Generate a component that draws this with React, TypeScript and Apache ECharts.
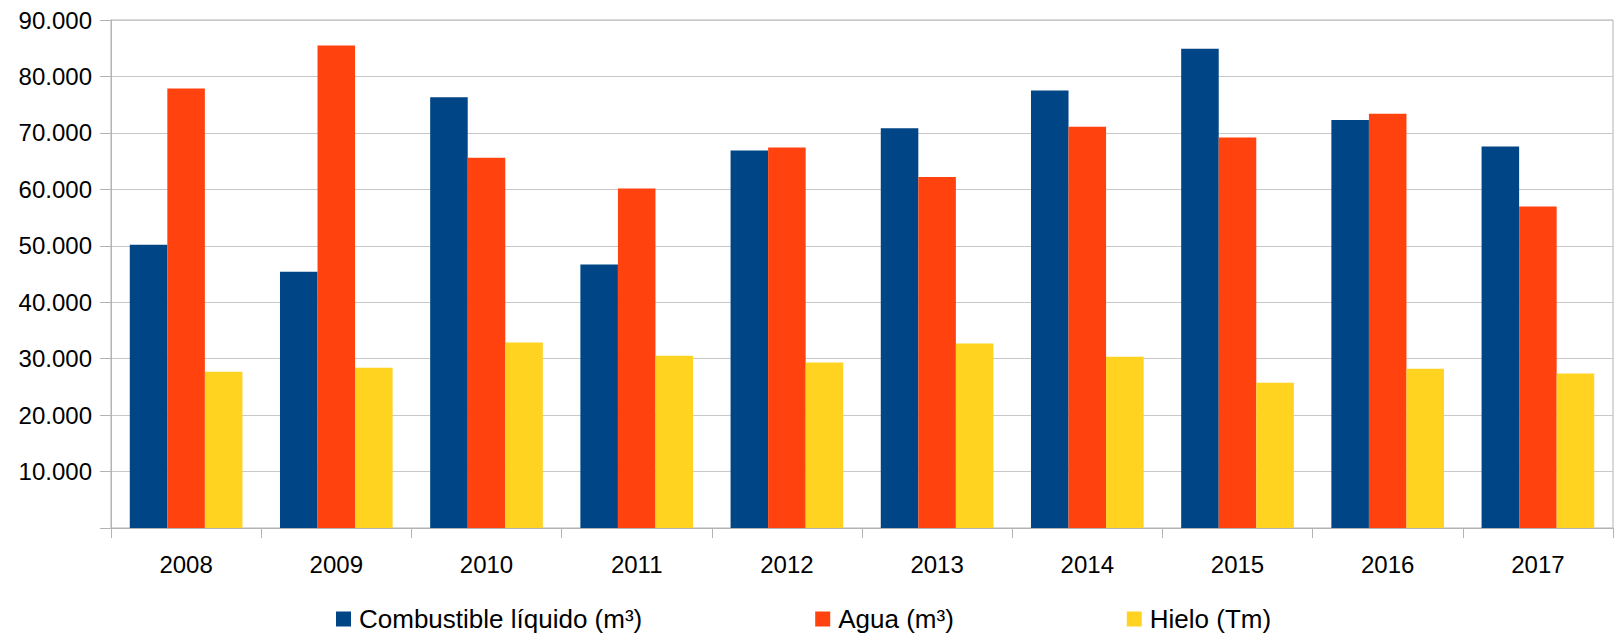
import React, { useEffect, useRef } from "react";
import * as echarts from "echarts";

const categories = ["2008", "2009", "2010", "2011", "2012", "2013", "2014", "2015", "2016", "2017"];
const seriesNames = ["Combustible líquido (m³)", "Agua (m³)", "Hielo (Tm)"];
const combustible = [50200, 45400, 76300, 46700, 66900, 70800, 77500, 84900, 72300, 67600];
const agua = [77850, 85500, 65600, 60150, 67400, 62200, 71100, 69200, 73400, 56950];
const hielo = [27700, 28400, 32850, 30500, 29300, 32700, 30350, 25750, 28200, 27350];
const colors = ["#004586", "#ff420e", "#ffd320"];

const FONT = "Liberation Sans, Arial, sans-serif";

function fmt(v: number): string {
  if (v === 0) return "";
  return String(v).replace(/\B(?=(\d{3})+(?!\d))/g, ".");
}

export default function App() {
  const ref = useRef<HTMLDivElement>(null);
  useEffect(() => {
    if (!ref.current) return;
    const chart = echarts.init(ref.current, null, { renderer: "svg" });
    const data = [combustible, agua, hielo];
    chart.setOption({
      animation: false,
      backgroundColor: "#ffffff",
      grid: {
        left: 111,
        right: 4,
        top: 20,
        height: 508,
        show: true,
        borderColor: "#b3b3b3",
        borderWidth: 1,
      },
      legend: {
        left: 336,
        top: 606,
        padding: 0,
        itemWidth: 15,
        itemHeight: 15,
        itemGap: 173,
        icon: "rect",
        textStyle: { fontFamily: FONT, fontSize: 26, color: "#000000", padding: [0, 0, 0, 3] },
        data: seriesNames,
      },
      xAxis: {
        type: "category",
        data: categories,
        axisLine: { show: true, lineStyle: { color: "#b3b3b3" } },
        axisTick: { show: true, length: 10, lineStyle: { color: "#b3b3b3" } },
        axisLabel: { fontFamily: FONT, fontSize: 24, color: "#000000", margin: 24 },
        splitLine: { show: false },
      },
      yAxis: {
        type: "value",
        min: 0,
        max: 90000,
        interval: 10000,
        axisLine: { show: true, lineStyle: { color: "#b3b3b3" } },
        axisTick: { show: true, length: 11, lineStyle: { color: "#b3b3b3" } },
        axisLabel: { fontFamily: FONT, fontSize: 24, color: "#000000", margin: 19, formatter: fmt },
        splitLine: { show: true, lineStyle: { color: "#c8c8c8", width: 1 } },
      },
      series: seriesNames.map((name, i) => ({
        name,
        type: "bar",
        data: data[i],
        barGap: "0%",
        barCategoryGap: "25%",
        itemStyle: { color: colors[i] },
      })),
    });
    return () => chart.dispose();
  }, []);
  return <div ref={ref} style={{ width: 1617, height: 636, position: "absolute", left: 0, top: 0 }} />;
}
